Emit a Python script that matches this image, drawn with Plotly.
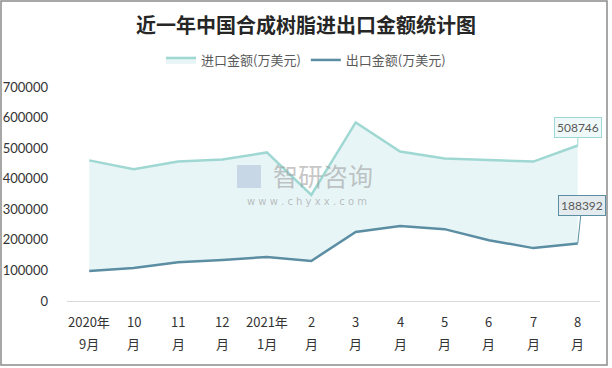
import plotly.graph_objects as go

categories = ["2020年9月", "2020年10月", "2020年11月", "2020年12月", "2021年1月", "2021年2月",
              "2021年3月", "2021年4月", "2021年5月", "2021年6月", "2021年7月", "2021年8月"]
tick_top = ["2020年", "10", "11", "12", "2021年", "2", "3", "4", "5", "6", "7", "8"]
tick_bottom = ["9月", "月", "月", "月", "1月", "月", "月", "月", "月", "月", "月", "月"]
import_vals = [460000, 431000, 456000, 463000, 486000, 347000, 584000, 489000, 466000, 460000, 456000, 508746]
export_vals = [98000, 108000, 127000, 134000, 144000, 131000, 226000, 245000, 235000, 199000, 173000, 188392]
y_ticks = [0, 100000, 200000, 300000, 400000, 500000, 600000, 700000]

W, H = 612, 368
L, R, T, B = 67, 12, 87, 67
PW, PH = W - L - R, H - T - B

def px(x):
    return (x - L) / PW

def py(y):
    return (H - B - y) / PH

C_IMP = "#9fd8d3"
C_EXP = "#5b8ea3"
CJK = "Noto Sans CJK SC"

fig = go.Figure()
fig.add_trace(go.Scatter(x=categories, y=export_vals, mode="lines", name="出口金额(万美元)",
                         line=dict(color=C_EXP, width=2.5), legendrank=2))
fig.add_trace(go.Scatter(x=categories, y=import_vals, mode="lines", name="进口金额(万美元)",
                         line=dict(color=C_IMP, width=2.5), fill="tonexty",
                         fillcolor="rgba(222,241,242,0.7)", legendrank=1))

annotations = []
for c, t, b in zip(categories, tick_top, tick_bottom):
    annotations.append(dict(x=c, xref="x", y=0, yref="paper", text=t, showarrow=False,
                            yshift=-20, yanchor="middle", font=dict(family=CJK, size=13, color="#333333")))
    annotations.append(dict(x=c, xref="x", y=0, yref="paper", text=b, showarrow=False,
                            yshift=-42, yanchor="middle", font=dict(family=CJK, size=13, color="#333333")))

# value callouts
annotations.append(dict(x=categories[-1], y=import_vals[-1], xref="x", yref="y",
                        text=f"{import_vals[-1]}", showarrow=True, arrowhead=0, arrowwidth=1,
                        arrowcolor=C_IMP, ax=0, ay=-18, bgcolor="#f0f9f9", bordercolor=C_IMP,
                        borderwidth=1, borderpad=2, font=dict(family="Lato", size=12, color="#595959")))
annotations.append(dict(x=categories[-1], y=export_vals[-1], xref="x", yref="y",
                        text=f"{export_vals[-1]}", showarrow=True, arrowhead=0, arrowwidth=1,
                        arrowcolor=C_EXP, ax=4, ay=-38, bgcolor="#e3ebef", bordercolor=C_EXP,
                        borderwidth=1, borderpad=2, font=dict(family="Lato", size=12, color="#595959")))

# watermark
annotations.append(dict(x=px(323), y=py(175), xref="paper", yref="paper", text="智研咨询",
                        showarrow=False, font=dict(family=CJK, size=25, color="rgba(150,150,150,0.55)")))
annotations.append(dict(x=px(307), y=py(201), xref="paper", yref="paper",
                        text="w w w . c h y x x . c o m", showarrow=False,
                        font=dict(family="DejaVu Sans", size=10, color="rgba(150,150,150,0.6)")))

shapes = [
    dict(type="rect", xref="paper", yref="paper", x0=px(237), x1=px(261), y0=py(188), y1=py(165),
         line=dict(width=0), fillcolor="rgba(160,180,210,0.45)", layer="above"),
    dict(type="rect", xref="paper", yref="paper", x0=px(1), x1=px(607), y0=py(365), y1=py(1),
         line=dict(color="#8c8c8c", width=1.5), fillcolor="rgba(0,0,0,0)"),
]

fig.update_layout(
    width=W, height=H,
    margin=dict(l=L, r=R, t=T, b=B, autoexpand=False),
    paper_bgcolor="white", plot_bgcolor="white",
    title=dict(text="<b>近一年中国合成树脂进出口金额统计图</b>", x=0.5, xref="container",
               xanchor="center", y=1 - 26 / H, yref="container", yanchor="middle",
               font=dict(family=CJK, size=20, color="#262626")),
    legend=dict(orientation="h", xref="container", yref="container", x=0.5, xanchor="center",
                y=1 - 60 / H, yanchor="middle", font=dict(family=CJK, size=13, color="#595959"),
                traceorder="normal"),
    xaxis=dict(showticklabels=False, showgrid=False, zeroline=False, showline=True, automargin=False,
               linecolor="#d9d9d9", linewidth=1, range=[-0.5, len(categories) - 0.5], fixedrange=True),
    yaxis=dict(range=[0, 700000], tickvals=y_ticks, ticktext=[str(v) for v in y_ticks], automargin=False,
               showgrid=False, zeroline=False, showline=False, ticklabelstandoff=18,
               tickfont=dict(family="Lato", size=13, color="#333333")),
    annotations=annotations,
    shapes=shapes,
    showlegend=True,
)

fig.write_html("out.html", config={"displayModeBar": False},
               post_script="document.body.style.margin='0px';")
